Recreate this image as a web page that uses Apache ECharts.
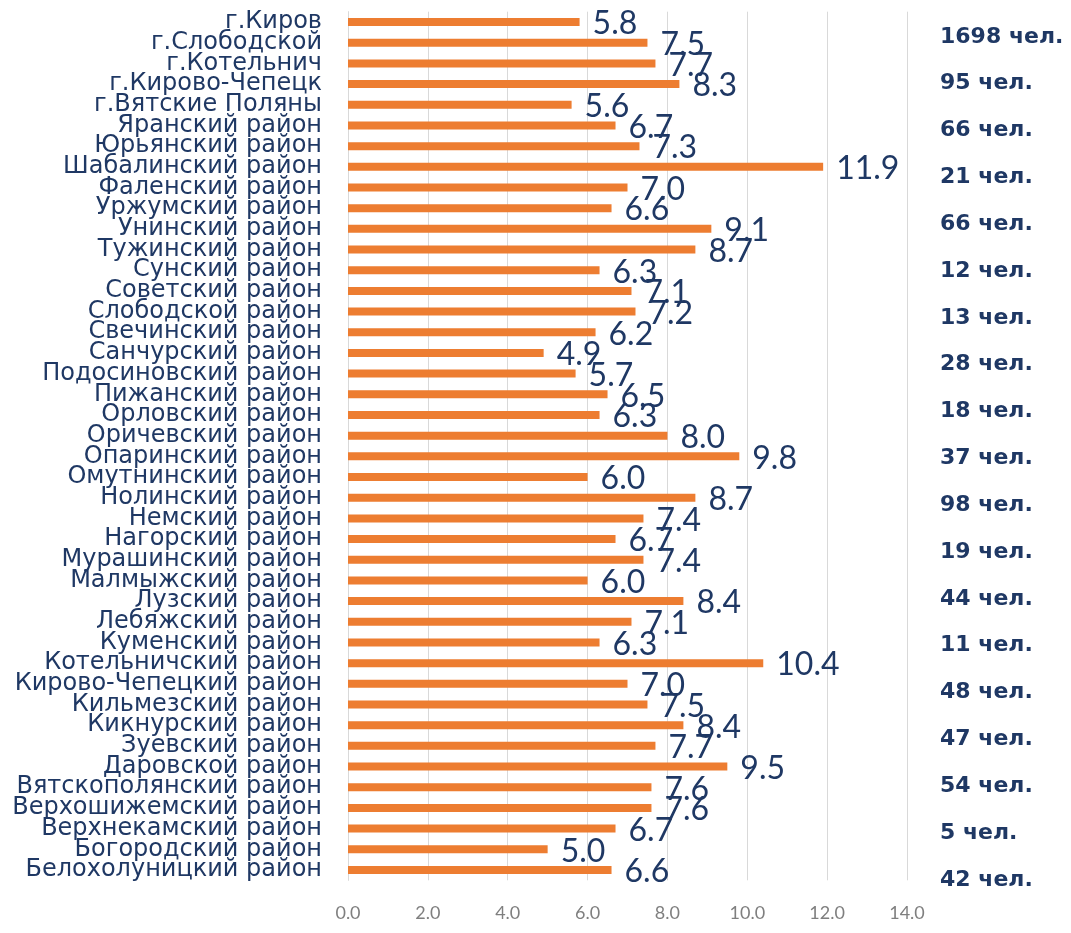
<!DOCTYPE html>
<html>
<head>
<meta charset="utf-8">
<script src="https://cdn.jsdelivr.net/npm/echarts@6/dist/echarts.min.js"></script>
<style>
html,body{margin:0;padding:0;background:#ffffff;}
#chart{width:1071px;height:933px;}
</style>
</head>
<body>
<div id="chart"></div>
<script>
const categories = [
  'г.Киров','г.Слободской','г.Котельнич','г.Кирово-Чепецк','г.Вятские Поляны',
  'Яранский район','Юрьянский район','Шабалинский район','Фаленский район','Уржумский район',
  'Унинский район','Тужинский район','Сунский район','Советский район','Слободской район',
  'Свечинский район','Санчурский район','Подосиновский район','Пижанский район','Орловский район',
  'Оричевский район','Опаринский район','Омутнинский район','Нолинский район','Немский район',
  'Нагорский район','Мурашинский район','Малмыжский район','Лузский район','Лебяжский район',
  'Куменский район','Котельничский район','Кирово-Чепецкий район','Кильмезский район','Кикнурский район',
  'Зуевский район','Даровской район','Вятскополянский район','Верхошижемский район','Верхнекамский район',
  'Богородский район','Белохолуницкий район'
];
const values = [
  5.8,7.5,7.7,8.3,5.6,
  6.7,7.3,11.9,7.0,6.6,
  9.1,8.7,6.3,7.1,7.2,
  6.2,4.9,5.7,6.5,6.3,
  8.0,9.8,6.0,8.7,7.4,
  6.7,7.4,6.0,8.4,7.1,
  6.3,10.4,7.0,7.5,8.4,
  7.7,9.5,7.6,7.6,6.7,
  5.0,6.6
];
const peopleCounts = [1698,95,66,21,66,12,13,28,18,37,98,19,44,11,48,47,54,5,42];
const peopleLabels = peopleCounts.map(v => v + ' чел.');
const xMin = 0, xMax = 14, xStep = 2;

const navy = '#1f3864';
const chart = echarts.init(document.getElementById('chart'));
chart.setOption({
  backgroundColor: '#ffffff',
  animation: false,
  grid: [
    {left: 348, right: 164, top: 11.7, height: 868.6},
    {left: 900, right: 134, top: 13.4, height: 889.8}
  ],
  xAxis: [
    {
      gridIndex: 0, type: 'value', min: xMin, max: xMax, interval: xStep,
      axisLine: {show: false}, axisTick: {show: false},
      splitLine: {show: true, lineStyle: {color: '#d9d9d9', width: 1}},
      axisLabel: {color: '#7f7f7f', fontFamily: 'Lato', fontSize: 18, margin: 24,
        formatter: v => v.toFixed(1)}
    },
    {gridIndex: 1, type: 'value', show: false, min: 0, max: 1}
  ],
  yAxis: [
    {
      gridIndex: 0, type: 'category', data: categories, inverse: true,
      axisLine: {show: true, lineStyle: {color: '#d9d9d9'}}, axisTick: {show: false},
      axisLabel: {color: navy, fontFamily: 'DejaVu Sans', fontSize: 24, margin: 26,
        interval: 0, lineHeight: 20}
    },
    {
      gridIndex: 1, type: 'category', data: peopleLabels, inverse: true, position: 'right',
      axisLine: {show: false}, axisTick: {show: false},
      axisLabel: {color: navy, fontFamily: 'DejaVu Sans', fontWeight: 'bold', fontSize: 22,
        margin: 3, align: 'left', interval: 0}
    }
  ],
  series: [{
    type: 'bar', xAxisIndex: 0, yAxisIndex: 0, data: values,
    barWidth: 8,
    itemStyle: {color: '#ed7d31'},
    label: {show: true, position: 'right', distance: 13, offset: [0, 2],
      color: navy, fontFamily: 'Lato', fontSize: 32,
      formatter: p => p.value.toFixed(1)}
  }]
});
</script>
</body>
</html>
